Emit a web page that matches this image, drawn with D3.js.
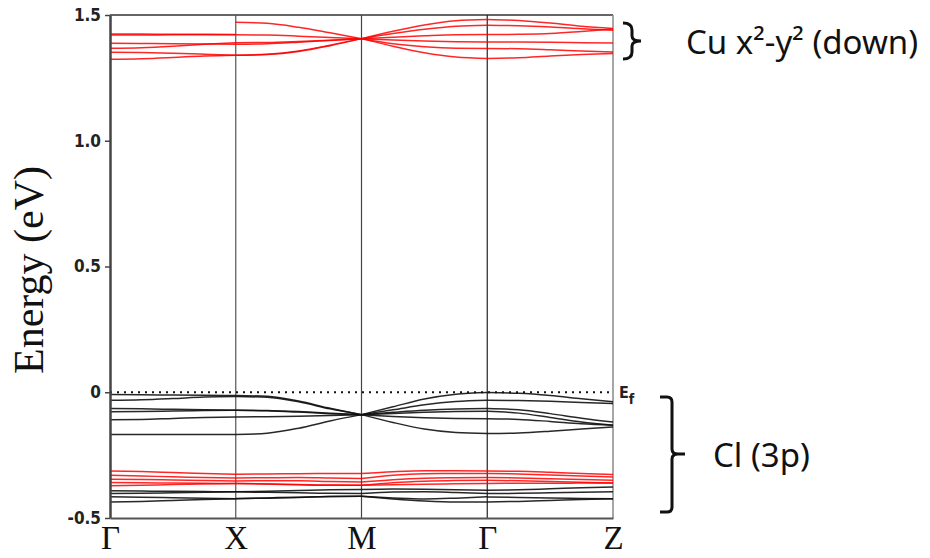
<!DOCTYPE html>
<html>
<head>
<meta charset="utf-8">
<title>Band structure</title>
<script src="https://d3js.org/d3.v7.min.js"></script>
<style>
    body { margin: 0; padding: 0; background: #fff; }
</style>
</head>
<body>
<div id="chart"></div>
<script>
    // high-symmetry path
    var kLabels = ["Γ", "X", "M", "Γ", "Z"];
    var kPos = [0, 1, 2, 3, 4];
    // sample positions inside each segment
    var segFrac = [0, 0.25, 0.5, 0.75, 1];
    var yTicks = [-0.5, 0, 0.5, 1.0, 1.5];
    var yTickLabels = ["-0.5", "0", "0.5", "1.0", "1.5"];

    // each band: 4 segments (Γ-X, X-M, M-Γ, Γ-Z), 5 energies (eV) each
    var cuBands = [
        [[1.424, 1.424, 1.423, 1.423, 1.422], [1.471, 1.467, 1.451, 1.429, 1.406], [1.406, 1.435, 1.460, 1.477, 1.482], [1.482, 1.478, 1.468, 1.455, 1.446]],
        [[1.420, 1.420, 1.421, 1.421, 1.421], [1.421, 1.420, 1.416, 1.411, 1.406], [1.406, 1.426, 1.443, 1.455, 1.459], [1.459, 1.457, 1.452, 1.445, 1.439]],
        [[1.388, 1.387, 1.386, 1.385, 1.384], [1.384, 1.386, 1.392, 1.399, 1.406], [1.406, 1.412, 1.417, 1.421, 1.422], [1.422, 1.423, 1.426, 1.434, 1.444]],
        [[1.368, 1.370, 1.376, 1.384, 1.390], [1.390, 1.391, 1.395, 1.400, 1.406], [1.406, 1.401, 1.397, 1.394, 1.393], [1.393, 1.393, 1.392, 1.390, 1.389]],
        [[1.352, 1.351, 1.348, 1.344, 1.340], [1.340, 1.344, 1.357, 1.380, 1.406], [1.406, 1.386, 1.374, 1.368, 1.367], [1.367, 1.366, 1.362, 1.357, 1.353]],
        [[1.324, 1.326, 1.331, 1.337, 1.340], [1.340, 1.343, 1.355, 1.378, 1.406], [1.406, 1.376, 1.350, 1.333, 1.327], [1.327, 1.330, 1.337, 1.343, 1.347]]
    ];

    var clUpperBands = [
        [[-0.009, -0.010, -0.011, -0.012, -0.013], [-0.013, -0.016, -0.035, -0.064, -0.089], [-0.089, -0.058, -0.027, -0.008, -0.001], [-0.001, -0.004, -0.013, -0.026, -0.038]],
        [[-0.032, -0.030, -0.025, -0.019, -0.017], [-0.017, -0.020, -0.038, -0.066, -0.089], [-0.089, -0.070, -0.050, -0.037, -0.032], [-0.032, -0.033, -0.036, -0.041, -0.045]],
        [[-0.065, -0.066, -0.068, -0.070, -0.072], [-0.072, -0.073, -0.077, -0.083, -0.089], [-0.089, -0.080, -0.072, -0.067, -0.065], [-0.065, -0.070, -0.085, -0.103, -0.118]],
        [[-0.078, -0.077, -0.075, -0.073, -0.072], [-0.072, -0.074, -0.079, -0.085, -0.089], [-0.089, -0.084, -0.080, -0.077, -0.076], [-0.076, -0.083, -0.100, -0.118, -0.131]],
        [[-0.109, -0.108, -0.104, -0.100, -0.098], [-0.098, -0.097, -0.095, -0.092, -0.089], [-0.089, -0.096, -0.101, -0.104, -0.105], [-0.105, -0.108, -0.116, -0.125, -0.131]],
        [[-0.168, -0.168, -0.168, -0.168, -0.168], [-0.168, -0.163, -0.143, -0.114, -0.089], [-0.089, -0.120, -0.146, -0.160, -0.164], [-0.164, -0.162, -0.155, -0.146, -0.138]]
    ];

    var clRedBands = [
        [[-0.313, -0.315, -0.319, -0.323, -0.326], [-0.326, -0.325, -0.324, -0.323, -0.323], [-0.323, -0.316, -0.312, -0.312, -0.313], [-0.313, -0.314, -0.318, -0.323, -0.327]],
        [[-0.330, -0.333, -0.336, -0.339, -0.341], [-0.341, -0.340, -0.339, -0.341, -0.343], [-0.343, -0.330, -0.324, -0.323, -0.323], [-0.323, -0.325, -0.329, -0.333, -0.337]],
        [[-0.346, -0.347, -0.349, -0.351, -0.353], [-0.353, -0.352, -0.352, -0.355, -0.357], [-0.357, -0.348, -0.342, -0.340, -0.339], [-0.339, -0.341, -0.344, -0.347, -0.350]],
        [[-0.359, -0.360, -0.361, -0.362, -0.363], [-0.363, -0.365, -0.367, -0.369, -0.370], [-0.370, -0.360, -0.354, -0.351, -0.350], [-0.350, -0.352, -0.355, -0.358, -0.361]],
        [[-0.372, -0.370, -0.367, -0.365, -0.363], [-0.363, -0.365, -0.368, -0.370, -0.370], [-0.370, -0.368, -0.366, -0.364, -0.363], [-0.363, -0.362, -0.362, -0.361, -0.361]]
    ];

    var clLowerBands = [
        [[-0.392, -0.393, -0.394, -0.395, -0.396], [-0.396, -0.394, -0.391, -0.388, -0.387], [-0.387, -0.385, -0.386, -0.388, -0.390], [-0.390, -0.388, -0.384, -0.380, -0.377]],
        [[-0.403, -0.402, -0.400, -0.398, -0.396], [-0.396, -0.398, -0.400, -0.402, -0.403], [-0.403, -0.397, -0.396, -0.399, -0.403], [-0.403, -0.402, -0.400, -0.398, -0.396]],
        [[-0.416, -0.417, -0.419, -0.421, -0.423], [-0.423, -0.421, -0.418, -0.415, -0.414], [-0.414, -0.420, -0.424, -0.421, -0.416], [-0.416, -0.418, -0.420, -0.422, -0.423]],
        [[-0.436, -0.434, -0.430, -0.426, -0.423], [-0.423, -0.420, -0.417, -0.415, -0.414], [-0.414, -0.424, -0.432, -0.436, -0.436], [-0.436, -0.434, -0.430, -0.426, -0.423]]
    ];

    var width = 930, height = 558;
    var margin = { left: 110, right: 613, top: 15, bottom: 518 };
    var tickFont = "'DejaVu Sans Condensed', 'DejaVu Sans'";

    var svg = d3.select("#chart")
        .append("svg")
        .attr("width", width)
        .attr("height", height);

    var x = d3.scaleLinear().domain([0, 4]).range([margin.left, margin.right]);
    var y = d3.scaleLinear().domain([-0.5, 1.5]).range([margin.bottom, margin.top]);

    // frame: top and right border
    svg.append("line")
        .attr("x1", x(0)).attr("x2", x(4))
        .attr("y1", y(1.5)).attr("y2", y(1.5))
        .style("stroke", "#333").style("stroke-width", 1.5);
    svg.append("line")
        .attr("x1", x(4)).attr("x2", x(4))
        .attr("y1", y(1.5)).attr("y2", y(-0.5))
        .style("stroke", "#888").style("stroke-width", 1.5);

    // high-symmetry verticals
    var vColors = ["#555", "#444", "#222"];
    svg.selectAll("vlines")
        .data(kPos.slice(1, 4))
        .enter()
        .append("line")
        .attr("x1", function (d) { return x(d); })
        .attr("x2", function (d) { return x(d); })
        .attr("y1", y(1.5)).attr("y2", y(-0.5))
        .style("stroke", function (d, i) { return vColors[i]; })
        .style("stroke-width", 1.2);

    // Fermi level
    svg.append("line")
        .attr("x1", x(0)).attr("x2", x(4))
        .attr("y1", y(0)).attr("y2", y(0))
        .style("stroke", "#111")
        .style("stroke-width", 2)
        .style("stroke-dasharray", "2,5");

    var line = d3.line()
        .x(function (d) { return x(d[0]); })
        .y(function (d) { return y(d[1]); })
        .curve(d3.curveMonotoneX);

    function drawBands(bands, color, sw, opacity) {
        bands.forEach(function (band) {
            band.forEach(function (seg, s) {
                var pts = seg.map(function (e, j) { return [kPos[s] + segFrac[j], e]; });
                svg.append("path")
                    .datum(pts)
                    .attr("d", line)
                    .style("fill", "none")
                    .style("stroke", color)
                    .style("stroke-width", sw)
                    .style("stroke-opacity", opacity);
            });
        });
    }

    drawBands(clLowerBands, "#111", 1.5, 0.9);
    drawBands(clRedBands, "#ff0000", 1.5, 0.85);
    drawBands(clUpperBands, "#111", 1.5, 0.9);
    drawBands(cuBands, "#ff0000", 1.5, 0.85);

    // axes
    var yAxis = svg.append("g")
        .attr("transform", "translate(" + margin.left + ",0)")
        .call(d3.axisLeft(y)
            .tickValues(yTicks)
            .tickFormat(function (d, i) { return yTickLabels[i]; })
            .tickSize(5)
            .tickSizeOuter(0)
            .tickPadding(4));
    yAxis.select(".domain").style("stroke", "#444").style("stroke-width", 2.5);
    yAxis.selectAll(".tick line").style("stroke", "#444").style("stroke-width", 1.5);
    yAxis.selectAll(".tick text")
        .style("font-family", tickFont)
        .style("font-weight", "bold")
        .style("font-size", "17px")
        .style("fill", "#222");

    var xAxis = svg.append("g")
        .attr("transform", "translate(0," + margin.bottom + ")")
        .call(d3.axisBottom(x)
            .tickValues(kPos)
            .tickFormat(function (d, i) { return kLabels[i]; })
            .tickSize(0)
            .tickSizeOuter(0)
            .tickPadding(8));
    xAxis.select(".domain").style("stroke", "#555").style("stroke-width", 2);
    xAxis.selectAll(".tick text")
        .style("font-family", "'Liberation Serif'")
        .style("font-size", "33px")
        .style("fill", "#111");

    svg.append("text")
        .attr("transform", "translate(43,270) rotate(-90)")
        .attr("text-anchor", "middle")
        .style("font-family", "'Liberation Serif'")
        .style("font-size", "42px")
        .style("fill", "#111")
        .text("Energy (eV)");

    // E_f label
    var ef = svg.append("text")
        .attr("x", 619)
        .attr("y", y(0) + 6)
        .style("font-family", tickFont)
        .style("font-weight", "bold")
        .style("font-size", "16px")
        .style("fill", "#222")
        .text("E");
    ef.append("tspan")
        .attr("dy", 6)
        .style("font-size", "14px")
        .text("f");

    // brackets and group labels
    svg.append("path")
        .attr("d", "M623,23 Q632,23 632,30 L632,36 Q632,41 641,41 Q632,41 632,46 L632,52 Q632,59 623,59")
        .style("fill", "none").style("stroke", "#111").style("stroke-width", 3);
    svg.append("path")
        .attr("d", "M660,397 L667,397 Q672,397 672,402 L672,449 Q672,454 678,454 L685,454 M678,454 Q672,454 672,459 L672,507 Q672,512 667,512 L660,512")
        .style("fill", "none").style("stroke", "#111").style("stroke-width", 3);

    svg.append("text")
        .attr("x", 686).attr("y", 54)
        .style("font-family", "'Noto Sans'")
        .style("font-size", "33px")
        .style("fill", "#111")
        .text("Cu x²-y² (down)");
    svg.append("text")
        .attr("x", 713).attr("y", 467)
        .style("font-family", "'Noto Sans'")
        .style("font-size", "33px")
        .style("fill", "#111")
        .text("Cl (3p)");
</script>
</body>
</html>
